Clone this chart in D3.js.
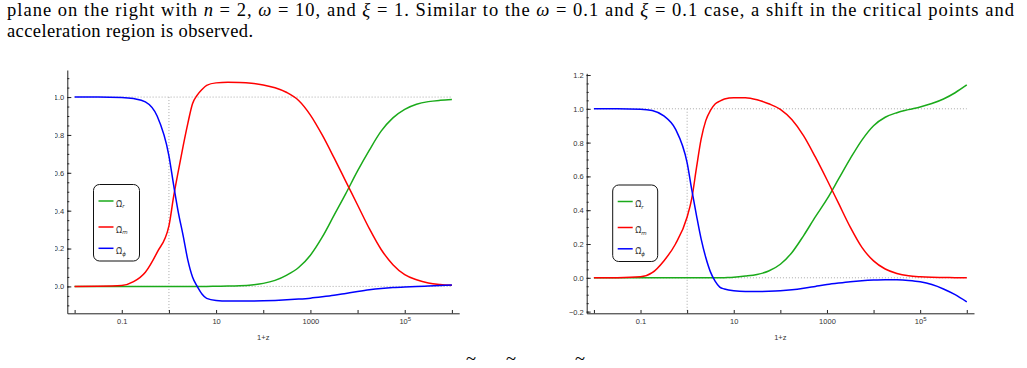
<!DOCTYPE html>
<html lang="en">
<head>
<meta charset="utf-8">
<title>Omega tilde vs 1+z</title>
<script src="https://d3js.org/d3.v7.min.js"></script>
<style>
  body { margin: 0; background: #fff; }
  svg { display: block; }
  .para { font-family: "Liberation Serif", "Times New Roman", "DejaVu Serif", serif; font-size: 18.5px; fill: #000; }
  .tick text, .tlab { font-family: "Liberation Sans", Arial, sans-serif; font-size: 7.5px; fill: #333; }
  .axis path, .axis line { stroke: #222; stroke-width: 1; }
  .leg { font-family: "DejaVu Sans", "Liberation Sans", sans-serif; font-size: 8px; fill: #333; }
</style>
</head>
<body>
<div id="container"></div>
<script>
// x sample grid: log10(1+z)
var lg1pz = [-2, -1.5, -1, -0.75, -0.5, -0.25, 0, 0.1, 0.2, 0.3, 0.4, 0.5, 0.6, 0.7, 0.8, 1.0,
  1.25, 1.5, 1.75, 2.0, 2.25, 2.5, 2.75, 3.0, 3.25, 3.5, 3.75, 4.0, 4.25, 4.5, 4.75, 5.0,
  5.25, 5.5, 5.75, 6.0];

// left panel
var leftOmegaR = [0, 0, 0, 0, 0, 0, 0, 0, 0, 0, 0, 0, 0, 0, 0, 0.001,
  0.002, 0.004, 0.008, 0.016, 0.032, 0.06, 0.1, 0.165, 0.26, 0.375, 0.49, 0.61, 0.72, 0.82, 0.89, 0.935,
  0.962, 0.976, 0.983, 0.987];
var leftOmegaM = [0, 0.001, 0.005, 0.025, 0.075, 0.18, 0.32, 0.475, 0.61, 0.74, 0.86, 0.965, 1.01, 1.04, 1.062, 1.075,
  1.078, 1.077, 1.073, 1.064, 1.049, 1.024, 0.982, 0.905, 0.8, 0.68, 0.555, 0.43, 0.305, 0.195, 0.115, 0.062,
  0.035, 0.018, 0.01, 0.006];
var leftOmegaPhi = [1, 1, 0.998, 0.992, 0.975, 0.9, 0.69, 0.535, 0.39, 0.27, 0.14, 0.05, 0, -0.04, -0.063, -0.074,
  -0.077, -0.077, -0.077, -0.076, -0.074, -0.071, -0.067, -0.062, -0.055, -0.047, -0.037, -0.027, -0.018, -0.011, -0.006, -0.003,
  -0.001, 0.002, 0.005, 0.008];

// right panel
var rightOmegaR = [0, 0, 0, 0, 0, 0, 0, 0, 0, 0, 0, 0, 0, 0, 0.001, 0.003,
  0.01, 0.02, 0.04, 0.08, 0.15, 0.25, 0.36, 0.465, 0.585, 0.705, 0.815, 0.9, 0.95, 0.977, 0.995, 1.011,
  1.031, 1.058, 1.095, 1.141];
var rightOmegaM = [0, 0.001, 0.006, 0.03, 0.1, 0.2, 0.36, 0.47, 0.65, 0.82, 0.93, 0.99, 1.028, 1.045, 1.058, 1.066,
  1.066, 1.054, 1.03, 0.997, 0.935, 0.84, 0.715, 0.58, 0.44, 0.3, 0.18, 0.1, 0.052, 0.026, 0.012, 0.006,
  0.003, 0.002, 0.001, 0];
var rightOmegaPhi = [1, 1, 0.998, 0.99, 0.958, 0.88, 0.68, 0.52, 0.37, 0.23, 0.12, 0.035, -0.02, -0.055, -0.066, -0.077,
  -0.081, -0.081, -0.08, -0.077, -0.071, -0.062, -0.051, -0.04, -0.031, -0.023, -0.017, -0.013, -0.011, -0.012, -0.016, -0.024,
  -0.04, -0.066, -0.1, -0.143];

var seriesNames = ["r", "m", "\u03d5"];
var seriesColors = ["#1aaa1a", "#ff0000", "#0000ff"];

var xTicks = [0.01, 0.1, 1, 10, 100, 1000, 1e4, 1e5, 1e6];
var xTickLabels = { "0.1": "0.1", "10": "10", "1000": "1000", "100000": "10^5" };
var leftYTicks = [0, 0.2, 0.4, 0.6, 0.8, 1.0];
var leftYMinor = d3.range(-0.1, 1.11, 0.05);
var rightYTicks = [-0.2, 0, 0.2, 0.4, 0.6, 0.8, 1.0, 1.2];
var rightYMinor = d3.range(-0.2, 1.21, 0.05);

var w = 1027, h = 368;
var svg = d3.select("#container").append("svg").attr("width", w).attr("height", h);

// paragraph text above the figure
var p1 = svg.append("text").attr("class", "para").attr("x", 7).attr("y", 16)
  .attr("textLength", 1007).attr("lengthAdjust", "spacing");
[["plane on the right with ", 0], ["n", 1], [" = 2, ", 0], ["\u03c9", 1], [" = 10, and ", 0], ["\u03be", 1],
 [" = 1.  Similar to the ", 0], ["\u03c9", 1], [" = 0.1 and ", 0], ["\u03be", 1],
 [" = 0.1 case, a shift in the critical points and", 0]].forEach(function(s) {
  p1.append("tspan").text(s[0]).attr("font-style", s[1] ? "italic" : null);
});
svg.append("text").attr("class", "para").attr("x", 7).attr("y", 36.5)
  .attr("textLength", 246).attr("lengthAdjust", "spacing")
  .text("acceleration region is observed.");
// tildes of the cut-off caption line below the figure
[471, 511, 580].forEach(function(tx) {
  svg.append("text").attr("class", "para").attr("x", tx).attr("y", 365)
    .attr("font-size", "10px").attr("text-anchor", "middle").text("~");
});

var panels = [
  { x0: 67.3, x1: 459.2, yDom: [-0.142, 1.143], yTop: 70, clipX: 55, ticks: leftYTicks, minor: leftYMinor,
    data: [leftOmegaR, leftOmegaM, leftOmegaPhi], legend: [93.5, 184.5, 46, 76.5] },
  { x0: 586.7, x1: 974, yDom: [-0.21, 1.21], yTop: 73.3, clipX: 0, ticks: rightYTicks, minor: rightYMinor,
    data: [rightOmegaR, rightOmegaM, rightOmegaPhi], legend: [612.7, 185, 45, 76.5] }
];

panels.forEach(function(P, pi) {
  var clipId = "clip" + pi;
  svg.append("clipPath").attr("id", clipId).append("rect")
    .attr("x", P.clipX).attr("y", 0).attr("width", w).attr("height", h);
  var g = svg.append("g").attr("clip-path", "url(#" + clipId + ")");

  var x = d3.scaleLog().domain([Math.pow(10, -2.155), Math.pow(10, 6.155)]).range([P.x0, P.x1]);
  var y = d3.scaleLinear().domain(P.yDom).range([313.3, P.yTop]);

  // dotted reference lines
  var dot = g.append("g").attr("stroke", "#aaa").attr("stroke-width", 1).attr("stroke-dasharray", "1,2");
  [0, 1].forEach(function(v) {
    dot.append("line").attr("x1", x(0.01)).attr("x2", x(1e6)).attr("y1", y(v)).attr("y2", y(v));
  });
  dot.append("line").attr("x1", x(1)).attr("x2", x(1)).attr("y1", y(1)).attr("y2", y(P.yDom[0]));

  // curves
  var line = d3.line()
    .x(function(d) { return x(Math.pow(10, d[0])); })
    .y(function(d) { return y(d[1]); })
    .curve(d3.curveMonotoneX);
  P.data.forEach(function(vals, i) {
    g.append("path")
      .datum(lg1pz.map(function(l, k) { return [l, vals[k]]; }))
      .attr("fill", "none").attr("stroke", seriesColors[i]).attr("stroke-width", 1.5)
      .attr("d", line);
  });

  // y axis
  g.append("g").attr("class", "axis").attr("transform", "translate(" + P.x0 + ",0)")
    .call(d3.axisLeft(y).tickValues(P.minor).tickSize(-2).tickSizeOuter(0).tickFormat(""));
  g.append("g").attr("class", "axis").attr("transform", "translate(" + P.x0 + ",0)")
    .call(d3.axisLeft(y).tickValues(P.ticks).tickSize(-4).tickSizeOuter(0).tickPadding(3)
      .tickFormat(d3.format(".1f")))
    .select(".domain").remove();

  // x axis
  var xa = g.append("g").attr("class", "axis").attr("transform", "translate(0,313.3)")
    .call(d3.axisBottom(x).tickValues(xTicks).tickSize(-3.3).tickSizeOuter(0).tickPadding(5)
      .tickFormat(function(d) { var s = xTickLabels[String(d)]; return s ? s.split("^")[0] : ""; }));
  xa.selectAll(".tick text").each(function(d) {
    var s = xTickLabels[String(d)];
    if (s && s.indexOf("^") > 0) {
      d3.select(this).append("tspan").attr("dy", "-0.45em").attr("font-size", "6px").text(s.split("^")[1]);
    }
  });
  g.append("text").attr("class", "tlab").attr("x", (P.x0 + P.x1) / 2).attr("y", 340)
    .attr("text-anchor", "middle").text("1+z");

  // legend
  var L = P.legend;
  var lg = g.append("g");
  lg.append("rect").attr("x", L[0]).attr("y", L[1]).attr("width", L[2]).attr("height", L[3])
    .attr("rx", 6).attr("fill", "#fff").attr("stroke", "#111").attr("stroke-width", 1);
  var rowY = [16.5, 42.5, 63.8];
  seriesNames.forEach(function(nm, i) {
    var yy = L[1] + rowY[i];
    lg.append("line").attr("x1", L[0] + 5).attr("x2", L[0] + 20).attr("y1", yy).attr("y2", yy)
      .attr("stroke", seriesColors[i]).attr("stroke-width", 1.5);
    var t = lg.append("text").attr("class", "leg").attr("x", L[0] + 22.5).attr("y", yy + 5.6);
    t.append("tspan").text("\u03a9\u0303");
    t.append("tspan").attr("dy", 1.6).attr("font-size", "5.5px").attr("font-style", "italic").text(nm);
  });
});
</script>
</body>
</html>
